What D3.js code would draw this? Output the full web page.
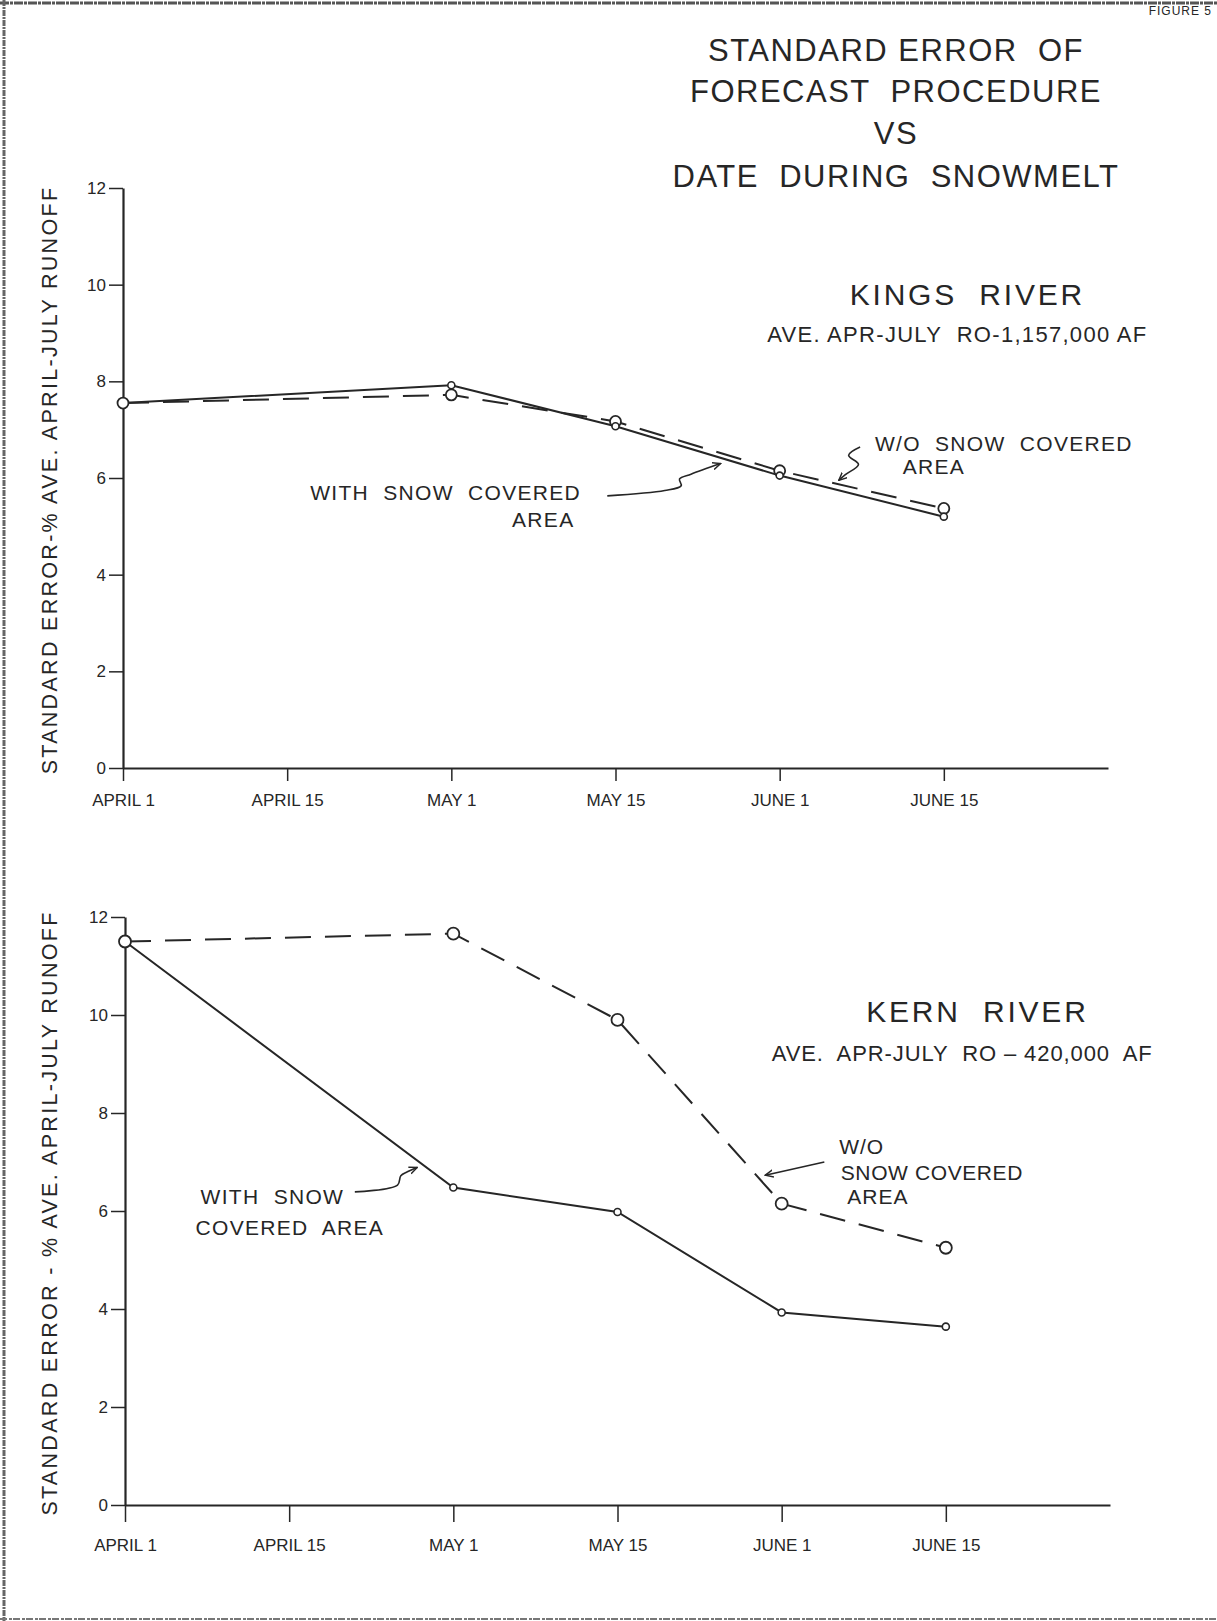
<!DOCTYPE html>
<html>
<head>
<meta charset="utf-8">
<script src="https://cdn.jsdelivr.net/npm/d3@7"></script>
<style>
  html, body { margin: 0; padding: 0; background: #fff; }
  svg { display: block; }
  text { font-family: "Liberation Sans", Arial, sans-serif; fill: #262626; }
</style>
</head>
<body>
<svg id="chart" width="1217" height="1621"></svg>
<script>
// ---------------- DATA ----------------
const dateLabels = ["APRIL 1", "APRIL 15", "MAY 1", "MAY 15", "JUNE 1", "JUNE 15"];
const dateIndex = [0, 2, 3, 4, 5];           // dates with observations (positions on date axis)
const yTickValues = [0, 2, 4, 6, 8, 10, 12];

const kingsWithSCA    = [7.55, 7.92, 7.07, 6.05, 5.20];
const kingsWithoutSCA = [7.55, 7.72, 7.17, 6.15, 5.37];
const kernWithSCA     = [11.50, 6.48, 5.98, 3.93, 3.64];
const kernWithoutSCA  = [11.50, 11.66, 9.90, 6.15, 5.25];

const titleLines = ["STANDARD ERROR  OF", "FORECAST  PROCEDURE", "VS", "DATE  DURING  SNOWMELT"];
const yAxisLabels = ["STANDARD ERROR-% AVE. APRIL-JULY RUNOFF", "STANDARD ERROR - % AVE. APRIL-JULY RUNOFF"];

// ---------------- LAYOUT ----------------
const ink = "#262626";
const svg = d3.select("#chart");

const panels = [
  { x0: 123, x1: 1108, yTop: 188, yBot: 768, withS: kingsWithSCA, withoutS: kingsWithoutSCA,
    ylabel: yAxisLabels[0], bigR: 5.5, smallR: 3.5, xTick: 13, xPad: 13 },
  { x0: 125, x1: 1110, yTop: 917, yBot: 1505, withS: kernWithSCA, withoutS: kernWithoutSCA,
    ylabel: yAxisLabels[1], bigR: 6, smallR: 3.5, xTick: 17, xPad: 17 }
];

// page frame (scan edges)
svg.append("line").attr("x1", 0).attr("x2", 1217).attr("y1", 3).attr("y2", 3)
  .attr("stroke", "#555").attr("stroke-width", 3).attr("stroke-dasharray", "9,1,3,1");
svg.append("line").attr("x1", 4).attr("x2", 4).attr("y1", 0).attr("y2", 1621)
  .attr("stroke", "#666").attr("stroke-width", 3).attr("stroke-dasharray", "6,1,2,1");
svg.append("line").attr("x1", 0).attr("x2", 1217).attr("y1", 1619).attr("y2", 1619)
  .attr("stroke", "#777").attr("stroke-width", 2).attr("stroke-dasharray", "7,2,3,1");
svg.append("text").attr("x", 1212).attr("y", 15).attr("text-anchor", "end")
  .attr("font-size", 12).attr("letter-spacing", 1).text("FIGURE 5");

// title
const titleY = [61, 102, 144, 187];
titleLines.forEach((t, i) => {
  svg.append("text").attr("x", 896).attr("y", titleY[i]).attr("text-anchor", "middle")
    .attr("font-size", 31).attr("letter-spacing", 1.5).style("white-space", "pre").text(t);
});

const arrowDefs = svg.append("defs");
arrowDefs.append("marker").attr("id", "arr").attr("viewBox", "0 0 10 10")
  .attr("refX", 9).attr("refY", 5).attr("markerWidth", 9).attr("markerHeight", 9)
  .attr("orient", "auto").attr("markerUnits", "userSpaceOnUse")
  .append("path").attr("d", "M0,1 L9,5 L0,9").attr("fill", "none").attr("stroke", ink).attr("stroke-width", 1.6);

panels.forEach((p, pi) => {
  const x = d3.scaleLinear().domain([0, 6]).range([p.x0, p.x1]);
  const y = d3.scaleLinear().domain([0, 12]).range([p.yBot, p.yTop]);
  p.x = x; p.y = y;
  const g = svg.append("g");

  // y axis
  const ya = g.append("g").attr("transform", `translate(${p.x0},0)`)
    .call(d3.axisLeft(y).tickValues(yTickValues).tickSize(14).tickSizeOuter(0).tickPadding(3).tickFormat(d3.format("d")));
  ya.select(".domain").attr("stroke", ink).attr("stroke-width", 2.2);
  ya.selectAll(".tick line").attr("stroke", ink).attr("stroke-width", 1.5);
  ya.selectAll(".tick text").attr("font-size", 17).attr("fill", ink)
    .attr("font-family", "'Liberation Sans', Arial, sans-serif");

  // x axis
  const xa = g.append("g").attr("transform", `translate(0,${p.yBot})`)
    .call(d3.axisBottom(x).tickValues([0, 1, 2, 3, 4, 5]).tickSize(p.xTick).tickSizeOuter(0)
      .tickPadding(p.xPad).tickFormat(i => dateLabels[i]));
  xa.select(".domain").attr("stroke", ink).attr("stroke-width", 2.2);
  xa.selectAll(".tick line").attr("stroke", ink).attr("stroke-width", 1.5).attr("y2", p.xTick);
  xa.selectAll(".tick text").attr("font-size", 17).attr("fill", ink)
    .attr("font-family", "'Liberation Sans', Arial, sans-serif");

  // y axis label
  g.append("text")
    .attr("transform", `translate(57,${(p.yTop + p.yBot) / 2 + 2}) rotate(-90)`)
    .attr("text-anchor", "middle").attr("font-size", 21.5).attr("letter-spacing", 2.3)
    .text(p.ylabel);

  const line = d3.line().x((d, i) => x(dateIndex[i])).y(d => y(d));

  // without SCA - dashed
  g.append("path").datum(p.withoutS).attr("d", line).attr("fill", "none")
    .attr("stroke", ink).attr("stroke-width", 2).attr("stroke-dasharray", "26,14");
  // with SCA - solid
  g.append("path").datum(p.withS).attr("d", line).attr("fill", "none")
    .attr("stroke", ink).attr("stroke-width", 2);

  g.selectAll(".mw").data(p.withoutS).join("circle")
    .attr("cx", (d, i) => x(dateIndex[i])).attr("cy", d => y(d)).attr("r", p.bigR)
    .attr("fill", "#fff").attr("stroke", ink).attr("stroke-width", 1.8);
  g.selectAll(".ms").data(p.withS.slice(1)).join("circle")
    .attr("cx", (d, i) => x(dateIndex[i + 1])).attr("cy", d => y(d)).attr("r", p.smallR)
    .attr("fill", "#fff").attr("stroke", ink).attr("stroke-width", 1.6);
});

// ---------------- ANNOTATIONS (in data units of each panel) ----------------
const K = panels[0], R = panels[1];
function txt(p, xi, v, s, anchor, size, ls) {
  svg.append("text").attr("x", p.x(xi)).attr("y", p.y(v)).attr("text-anchor", anchor || "start")
    .attr("font-size", size || 22).attr("letter-spacing", ls == null ? 1.2 : ls)
    .style("white-space", "pre").text(s);
}
function arrow(p, pts) {
  svg.append("path").datum(pts)
    .attr("d", d3.line().x(d => p.x(d[0])).y(d => p.y(d[1])).curve(d3.curveCatmullRom))
    .attr("fill", "none").attr("stroke", ink).attr("stroke-width", 1.6).attr("marker-end", "url(#arr)");
}

// Kings
txt(K, 5.86, 9.58, "KINGS  RIVER", "end", 30, 2.8);
txt(K, 6.24, 8.82, "AVE. APR-JULY  RO-1,157,000 AF", "end", 22, 1.3);
txt(K, 2.79, 5.55, "WITH  SNOW  COVERED", "end", 21, 1.3);
txt(K, 2.75, 4.99, "AREA", "end", 21, 1.3);
arrow(K, [[2.95, 5.63], [3.30, 5.74], [3.40, 5.84], [3.39, 5.98], [3.46, 6.08], [3.64, 6.30]]);
txt(K, 4.58, 6.56, "W/O  SNOW  COVERED", "start", 21, 1.3);
txt(K, 4.75, 6.08, "AREA", "start", 21, 1.3);
arrow(K, [[4.49, 6.64], [4.42, 6.47], [4.48, 6.28], [4.40, 6.07], [4.36, 5.95]]);

// Kern
txt(R, 5.87, 9.85, "KERN  RIVER", "end", 30, 2.8);
txt(R, 6.26, 9.06, "AVE.  APR-JULY  RO – 420,000  AF", "end", 22, 0.9);
txt(R, 0.46, 6.15, "WITH  SNOW", "start", 21, 1.3);
txt(R, 0.43, 5.52, "COVERED  AREA", "start", 21, 1.3);
arrow(R, [[1.40, 6.39], [1.66, 6.53], [1.68, 6.72], [1.72, 6.80], [1.78, 6.89]]);
txt(R, 4.35, 7.17, "W/O", "start", 21, 1.0);
txt(R, 4.36, 6.64, "SNOW COVERED", "start", 21, 0.6);
txt(R, 4.40, 6.15, "AREA", "start", 21, 1.0);
arrow(R, [[4.26, 7.00], [3.90, 6.73]]);
</script>
</body>
</html>
